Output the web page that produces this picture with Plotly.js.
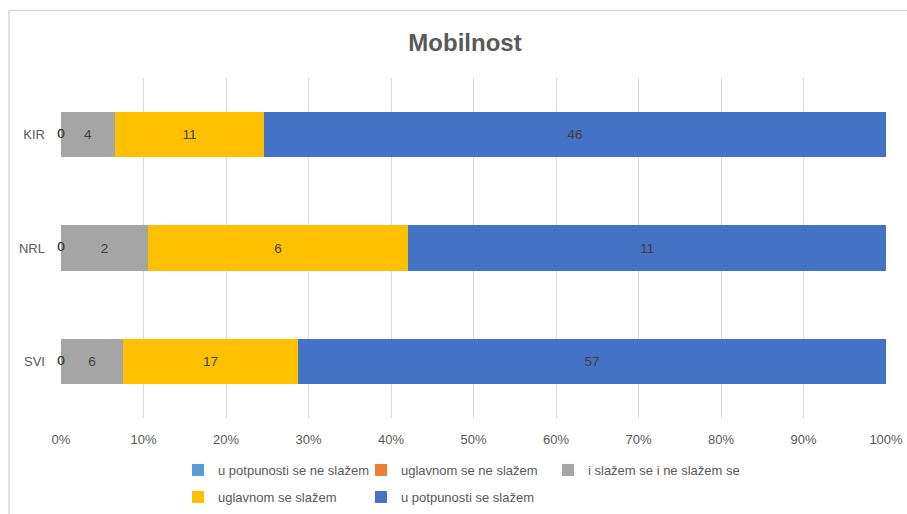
<!DOCTYPE html>
<html>
<head>
<meta charset="utf-8">
<script src="https://cdn.plot.ly/plotly-3.0.1.min.js"></script>
<style>html,body{margin:0;padding:0;background:#fff}#chart{width:907px;height:514px}</style>
</head>
<body>
<div id="chart"></div>
<script>
var categories = ["SVI", "NRL", "KIR"];
var seriesNames = ["u potpunosti se ne slažem", "uglavnom se ne slažem", "i slažem se i ne slažem se", "uglavnom se slažem", "u potpunosti se slažem"];
var uPotpunostiNe = [0, 0, 0];
var uglavnomNe = [0, 0, 0];
var iSlazemINe = [6, 2, 4];
var uglavnomDa = [17, 6, 11];
var uPotpunostiDa = [57, 11, 46];
var xTickLabels = ["0%", "10%", "20%", "30%", "40%", "50%", "60%", "70%", "80%", "90%", "100%"];

var series = [uPotpunostiNe, uglavnomNe, iSlazemINe, uglavnomDa, uPotpunostiDa];
var colors = ["#5B9BD5", "#ED7D31", "#A5A5A5", "#FFC000", "#4472C4"];
var legendOf = ["legend", "legend", "legend3", "legend2", "legend2"];
var FONT = "'Liberation Sans', Arial, sans-serif";

var traces = [];
series.forEach(function (vals, i) {
  traces.push({
    type: "bar",
    orientation: "h",
    name: seriesNames[i],
    y: categories,
    x: vals,
    text: vals.map(String),
    texttemplate: "%{text}",
    textposition: vals.every(function (v) { return v === 0; }) ? "none" : "inside",
    insidetextanchor: "middle",
    textfont: {family: FONT, size: 13.5, color: "#404040"},
    marker: {color: colors[i], line: {width: 0}},
    legend: legendOf[i],
    hoverinfo: "skip"
  });
});

// zero-valued labels at the start of each bar (drawn with the data scale)
var totals = categories.map(function (c, k) {
  return series.reduce(function (s, arr) { return s + arr[k]; }, 0);
});
[0, 1].forEach(function (i) {
  var xs = categories.map(function (c, k) {
    var cum = 0;
    for (var j = 0; j < i; j++) cum += series[j][k];
    return (cum + series[i][k] / 2) / totals[k] * 100;
  });
  traces.push({
    type: "scatter",
    mode: "text",
    x: xs,
    y: categories,
    text: series[i].map(String),
    textposition: "middle center",
    textfont: {family: FONT, size: 13.5, color: "#404040"},
    showlegend: false,
    hoverinfo: "skip",
    cliponaxis: false
  });
});

var l = 61, r = 21, t = 78, b = 96, W = 907, H = 514;
var pw = W - l - r, ph = H - t - b;
function px(x) { return (x - l) / pw; }
function py(y) { return (H - b - y) / ph; }

var legendBase = {
  orientation: "h",
  x: px(178), xanchor: "left", xref: "paper",
  yanchor: "middle", yref: "paper",
  entrywidth: 138, entrywidthmode: "pixels",
  font: {family: FONT, size: 13, color: "#595959"},
  itemclick: false, itemdoubleclick: false,
  traceorder: "normal", bgcolor: "rgba(0,0,0,0)"
};

var layout = {
  width: W, height: H,
  margin: {l: l, r: r, t: t, b: b, autoexpand: false},
  paper_bgcolor: "#ffffff",
  plot_bgcolor: "#ffffff",
  barmode: "stack",
  barnorm: "percent",
  bargap: 0.6,
  font: {family: FONT, color: "#595959", size: 13},
  title: {
    text: "<b>Mobilnost</b>",
    font: {family: FONT, size: 24, color: "#595959"},
    x: 465 / W, xanchor: "center", xref: "container",
    y: 1 - 43 / H, yanchor: "middle", yref: "container"
  },
  xaxis: {
    range: [0, 100],
    tickmode: "array",
    tickvals: xTickLabels.map(function (s) { return parseFloat(s); }),
    ticktext: xTickLabels,
    showgrid: true, gridcolor: "#D9D9D9", gridwidth: 1,
    zeroline: false, showline: false, ticks: "",
    tickfont: {family: FONT, size: 13, color: "#595959"},
    ticklabelstandoff: 12,
    fixedrange: true
  },
  yaxis: {
    categoryorder: "array", categoryarray: categories,
    showgrid: false, zeroline: false, showline: false, ticks: "",
    tickfont: {family: FONT, size: 13, color: "#595959"},
    ticklabelstandoff: 15,
    fixedrange: true
  },
  legend: Object.assign({}, legendBase, {y: py(470)}),
  legend2: Object.assign({}, legendBase, {y: py(497)}),
  legend3: Object.assign({}, legendBase, {y: py(470), x: px(548), entrywidth: 200}),
  shapes: [
    {type: "line", xref: "paper", yref: "paper", x0: px(9), x1: px(907), y0: py(10.5), y1: py(10.5), line: {color: "#D9D9D9", width: 1.5}},
    {type: "line", xref: "paper", yref: "paper", x0: px(9), x1: px(9), y0: py(10.5), y1: py(514), line: {color: "#D9D9D9", width: 1.5}}
  ]
};

Plotly.newPlot("chart", traces, layout, {displayModeBar: false, staticPlot: true});
</script>
</body>
</html>
